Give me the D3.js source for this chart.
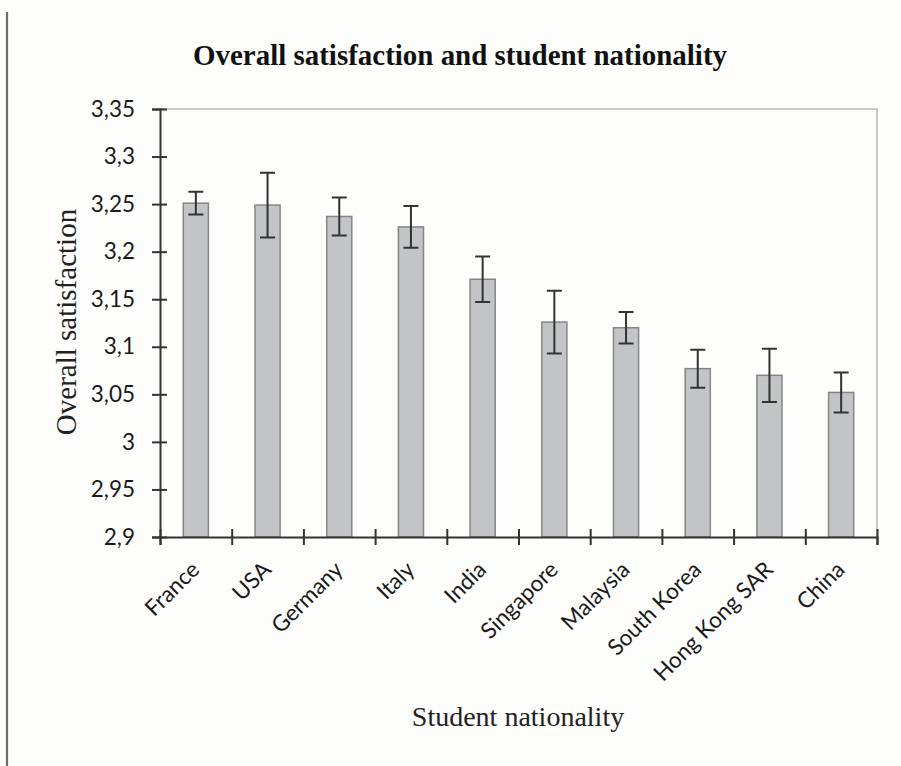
<!DOCTYPE html>
<html>
<head>
<meta charset="utf-8">
<script src="https://cdn.jsdelivr.net/npm/d3@7/dist/d3.min.js"></script>
<style>
  html, body { margin: 0; padding: 0; background: #fdfdfb; }
  svg { display: block; }
</style>
</head>
<body>
<svg id="chart" width="901" height="766"></svg>
<script>
// Mean overall satisfaction by student nationality, with error bars
const categories = ["France", "USA", "Germany", "Italy", "India", "Singapore",
                    "Malaysia", "South Korea", "Hong Kong SAR", "China"];
const satisfaction = [3.251, 3.249, 3.237, 3.226, 3.171, 3.126, 3.120, 3.077, 3.070, 3.052];
const errorMargin = [0.012, 0.034, 0.020, 0.022, 0.024, 0.033, 0.0165, 0.020, 0.028, 0.021];
const yTicks = [2.9, 2.95, 3, 3.05, 3.1, 3.15, 3.2, 3.25, 3.3, 3.35];

const svg = d3.select("#chart");
const plot = { left: 160, right: 877, top: 109, bottom: 537 };

const x = d3.scaleBand()
  .domain(categories)
  .range([plot.left, plot.right])
  .paddingInner(0.65)
  .paddingOuter(0.325);

const xEdge = d3.scaleLinear()
  .domain([0, categories.length])
  .range([plot.left, plot.right]);

const y = d3.scaleLinear()
  .domain([2.9, 3.35])
  .range([plot.bottom, plot.top]);

const fmt = v => String(+v.toFixed(2)).replace(".", ",");
const labelFont = "Lato, 'Open Sans', sans-serif";
const serif = "'Liberation Serif', 'Times New Roman', serif";

// page margin rule on the left
svg.append("line")
  .attr("x1", 7).attr("x2", 7).attr("y1", 12).attr("y2", 766)
  .attr("stroke", "#6e6e6e").attr("stroke-width", 2.2);

// light frame on the top and right of the plot area
svg.append("path")
  .attr("d", `M${plot.left},${plot.top}H${plot.right}V${plot.bottom}`)
  .attr("fill", "none").attr("stroke", "#c9c9c9").attr("stroke-width", 2);

// bars
svg.append("g").selectAll("rect")
  .data(categories)
  .join("rect")
  .attr("x", d => x(d))
  .attr("width", x.bandwidth())
  .attr("y", (d, i) => y(satisfaction[i]))
  .attr("height", (d, i) => y(2.9) - y(satisfaction[i]))
  .attr("fill", "#c3c4c6")
  .attr("stroke", "#858585")
  .attr("stroke-width", 1.5);

// error bars
const eb = svg.append("g").attr("stroke", "#333").attr("stroke-width", 2).attr("fill", "none");
categories.forEach((c, i) => {
  const cx = x(c) + x.bandwidth() / 2;
  const hi = y(satisfaction[i] + errorMargin[i]);
  const lo = y(satisfaction[i] - errorMargin[i]);
  eb.append("path")
    .attr("d", `M${cx},${hi}V${lo}M${cx - 7.5},${hi}H${cx + 7.5}M${cx - 7.5},${lo}H${cx + 7.5}`);
});

// y axis
const yAxis = svg.append("g")
  .attr("transform", `translate(${plot.left},0)`)
  .call(d3.axisLeft(y).tickValues(yTicks).tickFormat(fmt).tickSize(8).tickPadding(17));
yAxis.select(".domain").attr("stroke", "#333").attr("stroke-width", 2);
yAxis.selectAll(".tick line").attr("x1", 7).attr("x2", -8).attr("stroke", "#333").attr("stroke-width", 2);
yAxis.selectAll(".tick text")
  .attr("fill", "#1a1a1a")
  .style("font-family", labelFont)
  .style("font-size", "22.5px");

// x axis: ticks at category boundaries
const xAxis = svg.append("g")
  .attr("transform", `translate(0,${plot.bottom})`)
  .call(d3.axisBottom(xEdge).tickValues(d3.range(categories.length + 1)).tickFormat("").tickSize(8));
xAxis.select(".domain").attr("stroke", "#333").attr("stroke-width", 2);
xAxis.selectAll(".tick line").attr("y1", -8).attr("y2", 8).attr("stroke", "#333").attr("stroke-width", 2);

// category labels, rotated
svg.append("g").selectAll("text")
  .data(categories)
  .join("text")
  .attr("transform", d => `translate(${x(d) + x.bandwidth() / 2 + 5},${571}) rotate(-45)`)
  .attr("text-anchor", "end")
  .attr("fill", "#1a1a1a")
  .style("font-family", labelFont)
  .style("font-size", "22.5px")
  .text(d => d);

// title
svg.append("text")
  .attr("x", 460).attr("y", 65)
  .attr("text-anchor", "middle")
  .attr("textLength", 534)
  .attr("lengthAdjust", "spacingAndGlyphs")
  .attr("fill", "#111")
  .style("font-family", serif)
  .style("font-weight", "bold")
  .style("font-size", "30px")
  .text("Overall satisfaction and student nationality");

// axis titles
svg.append("text")
  .attr("transform", `translate(76,${322}) rotate(-90)`)
  .attr("text-anchor", "middle")
  .attr("fill", "#222")
  .style("font-family", serif)
  .style("font-size", "29px")
  .text("Overall satisfaction");

svg.append("text")
  .attr("x", 518).attr("y", 726)
  .attr("text-anchor", "middle")
  .attr("fill", "#222")
  .style("font-family", serif)
  .style("font-size", "28px")
  .text("Student nationality");
</script>
</body>
</html>
